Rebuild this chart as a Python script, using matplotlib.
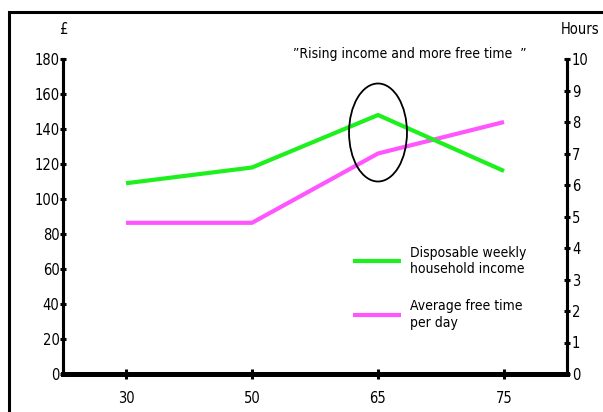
import matplotlib.pyplot as plt
from matplotlib.patches import Ellipse, Rectangle
import numpy as np

plt.rcParams['font.family'] = ['DejaVu Sans']
plt.rcParams['font.stretch'] = 'condensed'

ages = ['30', '50', '65', '75']
income = [109, 118, 148, 116]      # £ per week
free_time = [4.8, 4.8, 7.0, 8.0]   # hours per day
income_ticks = list(range(0, 181, 20))
hour_ticks = list(range(0, 11))

green = '#1ef01e'
pink = '#ff55ff'

fig = plt.figure(figsize=(6.03, 4.12), dpi=100)
# outer frame, cut off on the right and bottom like the original
fig.patches.append(Rectangle((9 / 603, -0.1), 1.2, 1 - 12 / 412 + 0.1,
                             transform=fig.transFigure, fill=False,
                             lw=2.2, ec='black'))

ax = fig.add_axes([63 / 603, 38 / 412, (567 - 63) / 603, (374 - 59) / 412])
ax2 = ax.twinx()
ax.set_zorder(ax2.get_zorder() + 1)
ax.patch.set_visible(False)

x = np.arange(len(ages))
l2, = ax2.plot(x, free_time, color=pink, lw=3.0, solid_capstyle='butt',
               label='Average free time\nper day')
l1, = ax.plot(x, income, color=green, lw=3.0, solid_capstyle='butt',
              label='Disposable weekly\nhousehold income')

ax.set_xlim(-0.5, 3.5)
ax.set_ylim(0, 180)
ax2.set_ylim(0, 10)
ax.set_xticks(x)
ax.set_xticklabels(ages)
ax.set_yticks(income_ticks)
ax2.set_yticks(hour_ticks)

for a in (ax, ax2):
    a.spines['top'].set_visible(False)
    a.spines['left'].set_linewidth(2.2)
    a.spines['right'].set_linewidth(2.2)
    a.spines['bottom'].set_linewidth(3.5)
ax.tick_params(axis='y', direction='inout', length=5, width=2.2, labelsize=10.5, pad=0)
ax.tick_params(axis='x', direction='inout', length=7, width=2.2, labelsize=10.5, pad=9)
ax2.tick_params(axis='y', direction='inout', length=5, width=2.2, labelsize=10.5, pad=1)

# ellipse highlighting the peak at 65
peak = int(np.argmax(income))
ax.add_patch(Ellipse((peak, income[peak] - 10), 0.46, 56, fill=False,
                     ec='black', lw=1.3, zorder=5))

fig.text(63 / 603, 1 - 30 / 412, '£', ha='center', va='center', fontsize=10.5)
fig.text(580 / 603, 1 - 30 / 412, 'Hours', ha='center', va='center', fontsize=10.5)
fig.text(410 / 603, 1 - 54 / 412, '\u201dRising income and more free time  \u201d',
         ha='center', va='center', fontsize=10)

ax.legend(handles=[l1, l2], loc='upper left', frameon=False,
          bbox_to_anchor=(347 / 603, 1 - 240 / 412), bbox_transform=fig.transFigure,
          fontsize=10, handlelength=3.5, handletextpad=0.6, labelspacing=1.7,
          borderaxespad=0)

fig.savefig('out.png', dpi=100)
